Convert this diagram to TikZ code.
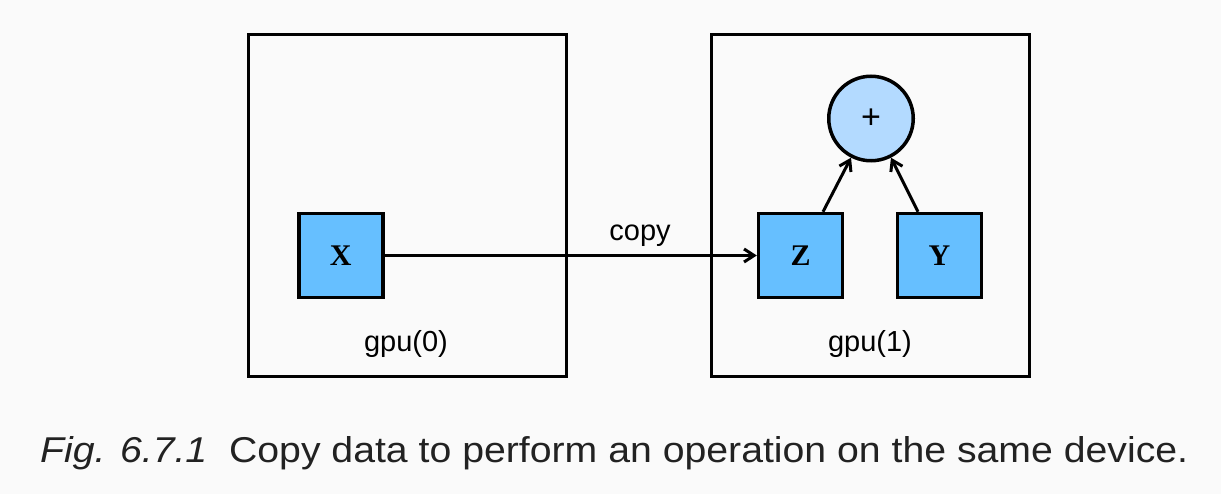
\documentclass[tikz,border=0pt]{standalone}
\usepackage{fontspec}
\setmainfont{Liberation Serif}
\setsansfont{Liberation Sans}
\usetikzlibrary{arrows.meta}
\definecolor{bg}{HTML}{FAFAFA}
\definecolor{boxblue}{HTML}{66BFFF}
\definecolor{circblue}{HTML}{B3DAFF}
\definecolor{captxt}{HTML}{222222}
\begin{document}
\begin{tikzpicture}[x=1pt,y=-1pt,
  device/.style={draw=black,line width=3pt,minimum width=318pt,minimum height=341pt,inner sep=0pt},
  var/.style={draw=black,line width=3.4pt,fill=boxblue,minimum width=84pt,minimum height=84pt,inner sep=0pt,font=\fontsize{30}{34}\selectfont\bfseries},
  op/.style={draw=black,line width=3.5pt,fill=circblue,circle,minimum size=84.5pt,inner sep=0pt,font=\sffamily\fontsize{34}{38}\selectfont},
  lbl/.style={font=\sffamily\fontsize{29}{33}\selectfont,inner sep=0pt},
  arr/.style={line width=3pt,-{Straight Barb[length=10pt,width=13pt,line width=3pt]}}]
\fill[bg] (0,0) rectangle (1221,494);
\useasboundingbox (0,0) rectangle (1221,494);
\node[device] (g0) at (407,205.5) {};
\node[device] (g1) at (870,205.5) {};
\node[var] (x) at (340.8,255.5) {X};
\node[var] (z) at (800.5,255.5) {Z};
\node[var] (y) at (939.5,255.5) {Y};
\node[op] (p) at (871,118.5) {+};
\node[lbl,anchor=base] (l0) at (406,352) {gpu(0)};
\node[lbl,anchor=base] (l1) at (870,352) {gpu(1)};
\node[lbl,anchor=base] (cp) at (640,241) {copy};
\draw[arr] (x.east) -- (z.west);
\draw[arr] ([xshift=22.5pt]z.north) -- (p.243);
\draw[arr] ([xshift=-21.5pt]y.north) -- (p.297);
\node[font=\sffamily\fontsize{40}{48}\selectfont,text=captxt,inner sep=0pt,anchor=base west] (cap) at (40,462)
  {\resizebox{1148pt}{26pt}{\itshape Fig. 6.7.1\upshape\ \ Copy data to perform an operation on the same device.}};
\end{tikzpicture}
\end{document}
